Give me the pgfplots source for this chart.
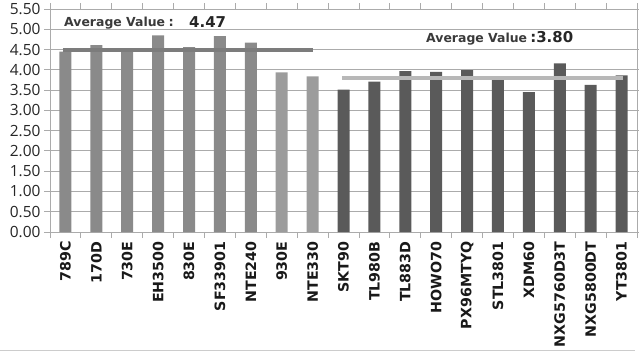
\documentclass[border=0pt]{standalone}
\usepackage{pgfplots}
\pgfplotsset{compat=1.18}
\usepackage{fontspec}
\setmainfont{DejaVu Sans}
\newfontfamily\tickfont{Open Sans}
\definecolor{barA}{HTML}{8A8A8A}
\definecolor{barB}{HTML}{9C9C9C}
\definecolor{barC}{HTML}{5A5A5A}
\definecolor{lineA}{HTML}{7C7C7C}
\definecolor{lineB}{HTML}{B8B8B8}
\definecolor{gridc}{HTML}{ABABAB}
\definecolor{txt}{HTML}{3A3A3A}
\begin{document}
\begin{tikzpicture}
\begin{axis}[
  scale only axis, width=587bp, height=223bp,
  xmin=-0.5, xmax=18.5, ymin=0, ymax=5.5,
  ytick={0,0.5,1,1.5,2,2.5,3,3.5,4,4.5,5,5.5},
  yticklabel style={font=\tickfont\fontsize{15.5}{15.5}\selectfont, text=black!85},
  /pgf/number format/.cd, fixed, fixed zerofill, precision=2, assume math mode=true, /pgfplots/.cd,
  ymajorgrids, grid style={draw=gridc, line width=0.9bp},
  axis line style={draw=gridc, line width=0.9bp},
  tick style={draw=gridc, line width=0.9bp},
  tick align=outside, major tick length=6bp,
  xtick={-0.5,0.5,1.5,2.5,3.5,4.5,5.5,6.5,7.5,8.5,9.5,10.5,11.5,12.5,13.5,14.5,15.5,16.5,17.5,18.5},
  x tick label as interval,
  xticklabels={789C,170D,730E,EH3500,830E,SF33901,NTE240,930E,NTE330,SKT90,TL980B,TL883D,HOWO70,PX96MTYQ,STL3801,XDM60,NXG5760D3T,NXG5800DT,YT3801},
  xticklabel style={rotate=90, anchor=east, font=\bfseries\fontsize{14.3}{14.3}\selectfont, text=black!90},
  clip=false,
]
\addplot[ybar, bar width=12bp, bar shift=0pt, fill=barA, draw=none] coordinates {(0,4.45) (1,4.61) (2,4.48) (3,4.85) (4,4.56) (5,4.83) (6,4.67)};
\addplot[ybar, bar width=12bp, bar shift=0pt, fill=barB, draw=none] coordinates {(7,3.94) (8,3.84)};
\addplot[ybar, bar width=12bp, bar shift=0pt, fill=barC, draw=none] coordinates {(9,3.51) (10,3.71) (11,3.97) (12,3.95) (13,3.99) (14,3.79) (15,3.45) (16,4.16) (17,3.63) (18,3.86)};
\addplot[draw=lineA, line width=4bp, mark=none] coordinates {(-0.08,4.48) (8.01,4.48)};
\addplot[draw=lineB, line width=4bp, mark=none] coordinates {(8.95,3.81) (18.04,3.81)};
\node[anchor=base west, inner sep=0, text=txt, font=\bfseries\fontsize{12.5}{12.5}\selectfont] at (axis cs:-0.047,5.06) {Average Value};
\node[anchor=base west, inner sep=0, text=txt, font=\bfseries\fontsize{13}{13}\selectfont] at (axis cs:3.33,5.06) {:};
\node[anchor=base west, inner sep=0, text=black!85, font=\bfseries\fontsize{15}{15}\selectfont] at (axis cs:4.0,5.05) {4.47};
\node[anchor=base west, inner sep=0, text=txt, font=\bfseries\fontsize{12.5}{12.5}\selectfont] at (axis cs:11.67,4.68) {Average Value};
\node[anchor=base west, inner sep=0, text=black!85, font=\bfseries\fontsize{15}{15}\selectfont] at (axis cs:15.04,4.68) {:3.80};
\end{axis}
\draw[draw=black!20, line width=0.8bp] (-50bp,-118.5bp) -- (585bp,-118.5bp);
\pgfresetboundingbox
\path (-50bp,-123bp) rectangle (589bp,232bp);
\end{tikzpicture}
\end{document}
